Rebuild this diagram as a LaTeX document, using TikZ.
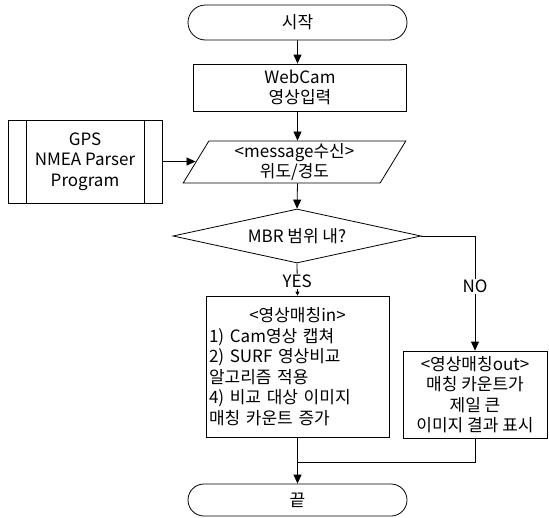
\documentclass[tikz,border=0pt]{standalone}
\usepackage{fontspec}
\setmainfont{Noto Sans CJK KR}
\usetikzlibrary{shapes.geometric,shapes.misc,arrows.meta}
\begin{document}
\begin{tikzpicture}[x=1pt,y=-1pt,
  every node/.style={font=\fontsize{17}{20.5}\selectfont, inner sep=1pt},
  line/.style={line width=0.8pt},
  arr/.style={line width=0.8pt,-{Triangle[length=9pt,width=8pt]}},
  smallarr/.style={line width=0.8pt,-{Triangle[length=4pt,width=4pt]}},
  term/.style={draw,line width=0.8pt,rounded rectangle,minimum width=221pt},
  proc/.style={draw,line width=0.8pt,rectangle,align=center}]
\useasboundingbox (0,0) rectangle (549,517);
\node[term,minimum height=35pt] (start) at (297.5,22.5) {시작};
\node[proc,minimum width=213pt,minimum height=47pt] (cam) at (300,87.5) {WebCam\\영상입력};
\node[proc,minimum width=154pt,minimum height=83pt] (gps) at (85,161.5) {GPS\\NMEA Parser\\Program};
\draw[line] ([xshift=19pt]gps.north west) -- ([xshift=19pt]gps.south west);
\draw[line] ([xshift=-18pt]gps.north east) -- ([xshift=-18pt]gps.south east);
\node[draw,line width=0.8pt,trapezium,trapezium left angle=64.5,trapezium right angle=115.5,
  trapezium stretches=true,minimum width=223pt,minimum height=42pt,align=center,inner sep=0pt] (msg) at (294.5,162) {<message수신>\\위도/경도};
\node[draw,line width=0.8pt,diamond,aspect=4.6,minimum width=248pt,minimum height=54pt,inner sep=0pt] (mbr) at (297,236) {MBR 범위 내?};
\node[draw,line width=0.8pt,rectangle,minimum width=183pt,minimum height=141pt,text width=177pt,align=left,inner sep=3pt] (in) at (297.5,366.5)
  {\makebox[177pt]{<영상매칭in>}\\1) Cam영상 캡쳐\\2) SURF 영상비교\\알고리즘 적용\\4) 비교 대상 이미지\\매칭 카운트 증가};
\node[proc,minimum width=144pt,minimum height=87pt,inner sep=0pt] (out) at (475,394.5)
  {<영상매칭out>\\매칭 카운트가\\제일 큰\\이미지 결과 표시};
\node[term,minimum height=32pt] (end) at (297.5,500) {끝};
\coordinate (mrg) at (297.5,462);
\draw[arr] (start) -- (start.south |- cam.north);
\draw[arr] (cam.south -| start.south) -- (start.south |- msg.north);
\draw[arr] (gps.east) -- (gps.east -| msg.west);
\draw[arr] (start.south |- msg.south) -- (mbr.north);
\draw[smallarr] (mbr.south) -- node[fill=white,inner sep=1pt,pos=0.55] (yes) {YES} (in.north);
\draw[arr] (mbr.east) -| node[fill=white,inner sep=1pt,pos=0.72] (no) {NO} (out.north);
\draw[line] (out.south) |- (mrg);
\draw[arr] (in.south) -- (end.north);
\end{tikzpicture}
\end{document}
